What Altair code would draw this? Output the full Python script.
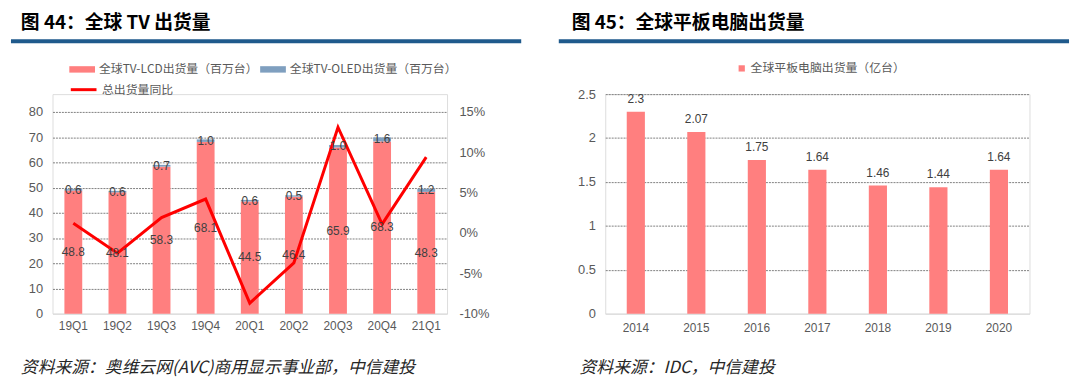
import altair as alt
import pandas as pd

# ---------------- data ----------------
quarters = ["19Q1", "19Q2", "19Q3", "19Q4", "20Q1", "20Q2", "20Q3", "20Q4", "21Q1"]
lcd = [48.8, 48.1, 58.3, 68.1, 44.5, 46.4, 65.9, 68.3, 48.3]
oled = [0.6, 0.6, 0.7, 1.0, 0.6, 0.5, 1.0, 1.6, 1.2]
yoy = [1.2, -2.5, 1.9, 4.2, -8.7, -3.7, 13.1, 1.1, 9.4]

years = ["2014", "2015", "2016", "2017", "2018", "2019", "2020"]
tablets = [2.3, 2.07, 1.75, 1.64, 1.46, 1.44, 1.64]

left_ticks = [0, 10, 20, 30, 40, 50, 60, 70, 80]
right_ticks = [-10, -5, 0, 5, 10, 15]
tab_ticks = [0, 0.5, 1, 1.5, 2, 2.5]

LCD_NAME = "全球TV-LCD出货量（百万台）"
OLED_NAME = "全球TV-OLED出货量（百万台）"
YOY_NAME = "总出货量同比"
TAB_NAME = "全球平板电脑出货量（亿台）"
TITLE_L = "图 44：全球 TV 出货量"
TITLE_R = "图 45：全球平板电脑出货量"
SRC_L = "资料来源：奥维云网(AVC)商用显示事业部，中信建投"
SRC_R = "资料来源：IDC，中信建投"

PINK = "#FF7F7F"
STEEL = "#7F9FBF"
RED = "#FF0000"
BLUE = "#1F5A8C"
AX = "#595959"
LBL = "#404040"
GRID = "#7F7F7F"
AXFONT = "Liberation Sans"
CJK = "Noto Sans CJK SC"

grid_op = {"condition": {"test": "datum.value === 0", "value": 0}, "value": 1}

# both panels share the same plot height; the left one keeps 80 / 15% at 204 px
H = 222
LEFT_TOP = 80 * H / 204
RIGHT_TOP = -10 + 25 * H / 204

# ---------------- left panel ----------------
WL = 399
tv = pd.DataFrame({"q": quarters, "lcd": lcd, "oled": oled, "yoy": yoy})
base = alt.Chart(tv)

xq = alt.X("q:N", sort=quarters,
           scale=alt.Scale(paddingInner=0.596, paddingOuter=0.27),
           axis=alt.Axis(title=None, labelAngle=0, ticks=False, domainColor="#D9D9D9",
                         labelPadding=7, labelColor=AX, labelFontSize=12, labelFont=AXFONT))
ydom = alt.Scale(domain=[0, LEFT_TOP], nice=False)

bars = base.transform_fold(["lcd", "oled"], as_=["k", "v"]).transform_calculate(
    type=f"datum.k == 'lcd' ? '{LCD_NAME}' : '{OLED_NAME}'",
    ord="datum.k == 'lcd' ? 0 : 1",
).mark_bar().encode(
    x=xq,
    y=alt.Y("v:Q", stack="zero", scale=ydom,
            axis=alt.Axis(title=None, values=left_ticks, grid=True, gridDash=[2, 1],
                          gridColor=GRID, gridOpacity=grid_op, domain=False, ticks=False,
                          labelPadding=10, labelColor=AX, labelFontSize=13, labelFont=AXFONT)),
    color=alt.Color("type:N",
                    scale=alt.Scale(domain=[LCD_NAME, OLED_NAME], range=[PINK, STEEL]),
                    legend=alt.Legend(orient="none", legendX=17, legendY=-38, title=None,
                                      direction="horizontal", padding=0,
                                      symbolType="M-1,-0.25L1,-0.25L1,0.25L-1,0.25Z",
                                      symbolSize=676, symbolStrokeWidth=0,
                                      labelFontSize=12, labelColor=AX, labelFont=CJK,
                                      labelLimit=400, columnPadding=2)),
    order=alt.Order("ord:Q", sort="ascending"),
)

lab_lcd = base.transform_calculate(ym="datum.lcd / 2").mark_text(
    fontSize=12, color=LBL, font=AXFONT).encode(
    x=xq, y=alt.Y("ym:Q", scale=ydom, axis=None),
    text=alt.Text("lcd:Q", format=".1f"))
lab_oled = base.transform_calculate(ym="datum.lcd + datum.oled / 2").mark_text(
    fontSize=12, color=LBL, font=AXFONT).encode(
    x=xq, y=alt.Y("ym:Q", scale=ydom, axis=None),
    text=alt.Text("oled:Q", format=".1f"))

line = base.transform_calculate(series=f"'{YOY_NAME}'").mark_line(
    strokeWidth=3).encode(
    x=xq,
    y=alt.Y("yoy:Q", scale=alt.Scale(domain=[-10, RIGHT_TOP], nice=False),
            axis=alt.Axis(orient="right", title=None, values=right_ticks,
                          labelExpr="datum.value + '%'", grid=False, domain=False,
                          ticks=False, labelPadding=12, labelColor=AX, labelFontSize=13,
                          labelFont=AXFONT)),
    stroke=alt.Stroke("series:N", scale=alt.Scale(range=[RED]),
                      legend=alt.Legend(orient="none", legendX=17, legendY=-19, title=None,
                                        padding=0, symbolType="stroke", symbolSize=676,
                                        symbolStrokeWidth=3, labelFontSize=12,
                                        labelColor=AX, labelFont=CJK, labelLimit=400)),
)

one = pd.DataFrame({"a": [0]})
title_l = alt.Chart(one).mark_text(text=TITLE_L, font=CJK, fontSize=19, fontWeight="bold",
                                   color="#000000", align="left", baseline="middle").encode(
    x=alt.value(-32), y=alt.value(-71.5))
rule_l = alt.Chart(one).mark_rule(color=BLUE, strokeWidth=4).encode(
    x=alt.value(-42), x2=alt.value(474), y=alt.value(-53.5))
src_l = alt.Chart(one).mark_text(text=SRC_L, font=CJK, fontSize=17, fontStyle="italic",
                                 color="#262626", align="left", baseline="middle").encode(
    x=alt.value(-32), y=alt.value(277))

left = alt.layer(bars, line, lab_lcd, lab_oled, title_l, rule_l, src_l).resolve_scale(
    y="independent").properties(width=WL, height=H)

# ---------------- right panel ----------------
WR = 429
tab = pd.DataFrame({"year": years, "v": tablets})
xs = alt.X("year:N", sort=years,
           scale=alt.Scale(paddingInner=0.70, paddingOuter=0.355),
           axis=alt.Axis(title=None, labelAngle=0, ticks=False, domainColor="#D9D9D9",
                         labelPadding=9, labelColor=AX, labelFontSize=12, labelFont=AXFONT))
ys = alt.Scale(domain=[0, 2.5], nice=False)

rbars = alt.Chart(tab).transform_calculate(tseries=f"'{TAB_NAME}'").mark_bar().encode(
    x=xs,
    y=alt.Y("v:Q", scale=ys,
            axis=alt.Axis(title=None, values=tab_ticks, format="~g", grid=True,
                          gridDash=[2, 1], gridColor=GRID, gridOpacity=grid_op,
                          domain=False, ticks=False, labelPadding=10, labelColor=AX,
                          labelFontSize=13, labelFont=AXFONT)),
    color=alt.Color("tseries:N", scale=alt.Scale(domain=[TAB_NAME], range=[PINK]),
                    legend=alt.Legend(orient="none", legendX=132, legendY=-32, title=None,
                                      padding=0, symbolType="square", symbolSize=40,
                                      symbolStrokeWidth=0, labelFontSize=12,
                                      labelColor=AX, labelFont=CJK, labelOffset=3,
                                      labelLimit=400)),
)
rlabels = alt.Chart(tab).mark_text(dy=-13, fontSize=12, color=LBL, font=AXFONT).encode(
    x=xs, y=alt.Y("v:Q", scale=ys), text=alt.Text("v:Q", format="~g"))

title_r = alt.Chart(one).mark_text(text=TITLE_R, font=CJK, fontSize=19, fontWeight="bold",
                                   color="#000000", align="left", baseline="middle").encode(
    x=alt.value(-34), y=alt.value(-71.5))
rule_r = alt.Chart(one).mark_rule(color=BLUE, strokeWidth=4).encode(
    x=alt.value(-47), x2=alt.value(469), y=alt.value(-53.5))
src_r = alt.Chart(one).mark_text(text=SRC_R, font=CJK, fontSize=17, fontStyle="italic",
                                 color="#262626", align="left", baseline="middle").encode(
    x=alt.value(-26), y=alt.value(277))

right = alt.layer(rbars, rlabels, title_r, rule_r, src_r).properties(width=WR, height=H)

chart = alt.hconcat(left, right, spacing=32).resolve_scale(
    color="independent", stroke="independent"
).properties(
    padding={"left": 0, "top": 4, "right": 0, "bottom": 0}
).configure_view(stroke=None).configure(background="#FFFFFF")

chart.save("out.html", embed_options={"renderer": "svg", "actions": False})
